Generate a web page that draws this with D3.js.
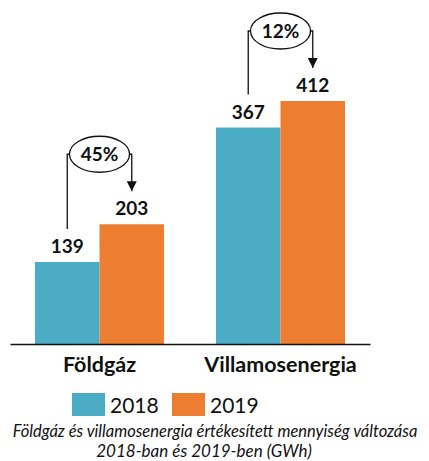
<!DOCTYPE html>
<html>
<head>
<meta charset="utf-8">
<script src="https://cdn.jsdelivr.net/npm/d3@7"></script>
<style>
  body { margin: 0; background: #fff; }
  text { font-family: Lato, "Open Sans", sans-serif; fill: #111; }
</style>
</head>
<body>
<script>
const categories = ["Földgáz", "Villamosenergia"];
const years = ["2018", "2019"];
const values2018 = [139, 367];
const values2019 = [203, 412];
const changeLabels = ["45%", "12%"];
const captionLines = [
  "Földgáz és villamosenergia értékesített mennyiség változása",
  "2018-ban és 2019-ben (GWh)"
];
const colors = ["#4bacc6", "#ed7d31"];

const width = 429, height = 461;
const svg = d3.select("body").append("svg")
  .attr("width", width)
  .attr("height", height);

const baseY = 344;

const x = d3.scaleBand()
  .domain(categories)
  .range([10, 370])
  .paddingInner(0.287)
  .paddingOuter(0.138);

const xs = d3.scaleBand()
  .domain(years)
  .range([0, x.bandwidth()]);

const y = d3.scaleLinear()
  .domain([0, 412])
  .range([baseY, baseY - 243]);

const rows = categories.map((c, i) => ({
  cat: c,
  vals: [values2018[i], values2019[i]],
  pct: changeLabels[i]
}));

// bars
const groups = svg.selectAll("g.grp")
  .data(rows)
  .enter().append("g")
  .attr("class", "grp")
  .attr("transform", d => `translate(${x(d.cat)},0)`);

groups.selectAll("rect")
  .data(d => d.vals.map((v, j) => ({ year: years[j], v: v })))
  .enter().append("rect")
  .attr("x", d => xs(d.year))
  .attr("y", d => y(d.v))
  .attr("width", xs.bandwidth())
  .attr("height", d => y(0) - y(d.v))
  .attr("fill", (d, j) => colors[j]);

groups.selectAll("text.val")
  .data(d => d.vals.map((v, j) => ({ year: years[j], v: v })))
  .enter().append("text")
  .attr("class", "val")
  .attr("x", d => xs(d.year) + xs.bandwidth() / 2)
  .attr("y", d => y(d.v) - 9)
  .attr("text-anchor", "middle")
  .attr("font-size", 19)
  .attr("font-weight", "bold")
  .text(d => d.v);

// change annotations
svg.append("defs").append("marker")
  .attr("id", "arrow")
  .attr("viewBox", "0 0 10 10")
  .attr("refX", 10).attr("refY", 5)
  .attr("markerWidth", 10).attr("markerHeight", 10)
  .attr("markerUnits", "userSpaceOnUse")
  .attr("orient", "auto")
  .append("path")
  .attr("d", "M0,0L10,5L0,10Z")
  .attr("fill", "#111");

groups.each(function(d) {
  const g = d3.select(this);
  const x1 = xs(years[0]) + xs.bandwidth() / 2;
  const x2 = xs(years[1]) + xs.bandwidth() / 2;
  const cx = x.bandwidth() / 2;
  const cy = y(d.vals[1]) - 70;
  g.append("path")
    .attr("d", `M${x1},${y(d.vals[0]) - 33}V${cy}H${cx - 29}`)
    .attr("fill", "none").attr("stroke", "#111").attr("stroke-width", 1.3);
  g.append("path")
    .attr("d", `M${cx + 29},${cy}H${x2}V${y(d.vals[1]) - 33}`)
    .attr("fill", "none").attr("stroke", "#111").attr("stroke-width", 1.3)
    .attr("marker-end", "url(#arrow)");
  g.append("ellipse")
    .attr("cx", cx).attr("cy", cy)
    .attr("rx", 30).attr("ry", 18)
    .attr("fill", "#fff").attr("stroke", "#111").attr("stroke-width", 1.3);
  g.append("text")
    .attr("x", cx).attr("y", cy + 7)
    .attr("text-anchor", "middle")
    .attr("font-size", 19)
    .attr("font-weight", "bold")
    .text(d.pct);
});

// axis
const axis = svg.append("g")
  .attr("transform", `translate(0,${baseY})`)
  .call(d3.axisBottom(x).tickSize(0).tickPadding(13));
axis.select(".domain").attr("stroke", "#111").attr("stroke-width", 1.5);
axis.selectAll(".tick text")
  .attr("font-family", "Lato, sans-serif")
  .attr("font-size", 21.5)
  .attr("font-weight", "bold")
  .attr("fill", "#111");

// legend
const legend = svg.append("g").attr("transform", "translate(72,393)");
const li = legend.selectAll("g")
  .data(years)
  .enter().append("g")
  .attr("transform", (d, i) => `translate(${i * 100},0)`);
li.append("rect")
  .attr("width", 33).attr("height", 23)
  .attr("fill", (d, i) => colors[i]);
li.append("text")
  .attr("x", 38).attr("y", 20)
  .attr("font-size", 21)
  .text(d => d);

// caption
svg.selectAll("text.cap")
  .data(captionLines)
  .enter().append("text")
  .attr("class", "cap")
  .attr("x", (d, i) => i === 0 ? 215 : 204)
  .attr("y", (d, i) => 437 + i * 20)
  .attr("text-anchor", "middle")
  .attr("font-size", (d, i) => i === 0 ? 16.5 : 17)
  .attr("font-style", "italic")
  .text(d => d);
</script>
</body>
</html>
